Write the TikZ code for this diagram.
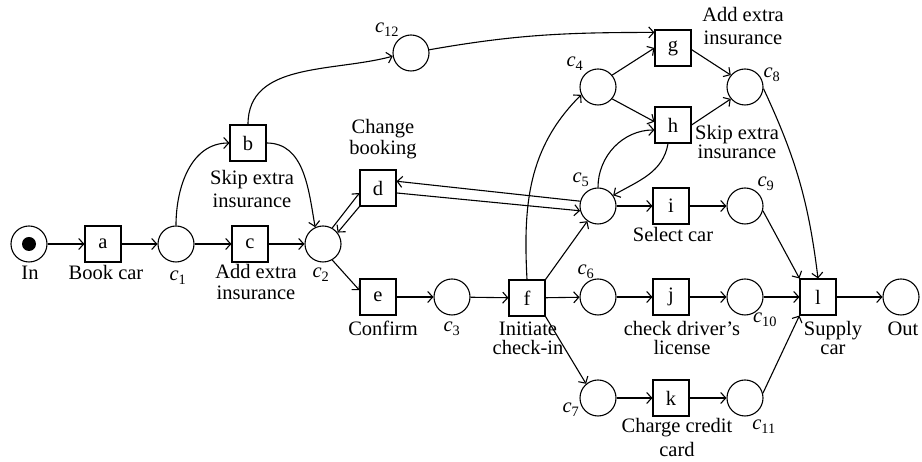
\documentclass[tikz,border=0pt]{standalone}
\usepackage{fontspec}
\setmainfont{Liberation Serif}
\usetikzlibrary{arrows.meta}
\newcommand{\pc}[1]{\textit{c}\textsubscript{#1}}

\begin{document}
\begin{tikzpicture}[x=1pt,y=1pt,line width=1.1pt,
    >={Straight Barb[length=5pt,width=11pt]},
    font=\fontsize{20.5}{21}\selectfont,
    place/.style={draw,circle,minimum size=36pt,inner sep=0pt},
    trans/.style={draw,rectangle,minimum size=36pt,inner sep=0pt},
    token/.style={circle,fill,minimum size=14pt,inner sep=0pt},
    lbl/.style={anchor=base,align=center,inner sep=0pt}]
    \useasboundingbox (0,0) rectangle (922,462);

    \node[place] (in) at (29,218) {};
    \node[token] (tok) at (in) {};
    \node[place] (c1) at (176,218) {};
    \node[place] (c2) at (323,218) {};
    \node[place] (c3) at (452,165) {};
    \node[place] (c4) at (598,375) {};
    \node[place] (c5) at (598,256) {};
    \node[place] (c6) at (598,165) {};
    \node[place] (c7) at (598,64) {};
    \node[place] (c8) at (745,375) {};
    \node[place] (c9) at (745,256) {};
    \node[place] (c10) at (745,165) {};
    \node[place] (c11) at (745,64) {};
    \node[place] (c12) at (411,409) {};
    \node[place] (out) at (901,165) {};

    \node[trans] (a) at (103,218) {a};
    \node[trans] (b) at (248,319) {b};
    \node[trans] (c) at (250,218) {c};
    \node[trans] (d) at (378,274) {d};
    \node[trans] (e) at (378,165) {e};
    \node[trans] (f) at (527,164) {f};
    \node[trans] (g) at (673,414) {g};
    \node[trans] (h) at (673,337) {h};
    \node[trans] (i) at (671,256) {i};
    \node[trans] (j) at (671,165) {j};
    \node[trans] (k) at (671,64) {k};
    \node[trans] (l) at (818,165) {l};

    \node[lbl] (lin) at (30,182) {In};
    \node[lbl] (la) at (106,182) {Book car};
    \node[lbl] (lc1) at (178,181) {\pc{1}};
    \node[lbl] (lc) at (256,162) {Add extra\\insurance};
    \node[lbl] (lb) at (252,254) {Skip extra\\[2pt]insurance};
    \node[lbl] (lc2) at (321,184) {\pc{2}};
    \node[lbl] (ld) at (383,307) {Change\\booking};
    \node[lbl] (lc12) at (387,429) {\pc{12}};
    \node[lbl] (lc4) at (575,395) {\pc{4}};
    \node[lbl] (lc5) at (581,279) {\pc{5}};
    \node[lbl] (lg) at (743,417) {Add extra\\[2pt]insurance};
    \node[lbl] (lc8) at (772,384) {\pc{8}};
    \node[lbl,font=\fontsize{20.5}{19.5}\selectfont] (lh) at (737,303) {Skip extra\\insurance};
    \node[lbl] (lc9) at (766,275) {\pc{9}};
    \node[lbl] (li) at (673,220) {Select car};
    \node[lbl] (lc6) at (586,187) {\pc{6}};
    \node[lbl] (le) at (383,126) {Confirm};
    \node[lbl] (lc3) at (452,130) {\pc{3}};
    \node[lbl,font=\fontsize{20.5}{19}\selectfont] (lf) at (528,107) {Initiate\\check-in};
    \node[lbl] (lc7) at (571,49) {\pc{7}};
    \node[lbl,font=\fontsize{20.5}{19}\selectfont] (lj) at (682,107) {check driver's\\license};
    \node[lbl] (lc10) at (765,139) {\pc{10}};
    \node[lbl,font=\fontsize{20.5}{19}\selectfont] (ll) at (833,107) {Supply\\car};
    \node[lbl] (lout) at (903,126) {Out};
    \node[lbl] (lk) at (677,5) {Charge credit\\[3pt]card};
    \node[lbl] (lc11) at (764,32) {\pc{11}};

    \draw[->] (in) -- (a);
    \draw[->] (a) -- (c1);
    \draw[->] (c1) -- (c);
    \draw[->] (c) -- (c2);
    \draw[->] (c1.north) to[out=90,in=180] (b.west);
    \draw[->] (b.east) to[out=0,in=100] (c2.115);
    \draw[->] (b.north) to[out=90,in=195] (c12.190);
    \draw[->] (c12.10) to[out=10,in=180] (g.140);
    \draw[->] (c2.60) -- (d.195);
    \draw[->] (d.south west) -- (c2.38);
    \draw[->] (d.-15) -- (c5.195);
    \draw[->] (c5.165) -- (d.20);
    \draw[->] (c2.-60) -- (e.160);
    \draw[->] (e) -- (c3);
    \draw[->] (c3) -- (f);
    \draw[->] (f.north) to[out=93,in=225] (c4.205);
    \draw[->] (f.north east) -- (c5.235);
    \draw[->] (f) -- (c6);
    \draw[->] (f.south east) -- (c7.130);
    \draw[->] (c4.40) -- (g.west);
    \draw[->] (c4.-40) -- (h.170);
    \draw[->] (c5.north) to[out=90,in=180] (h.195);
    \draw[->] (h.-105) to[out=-100,in=30] (c5.35);
    \draw[->] (c5) -- (i);
    \draw[->] (i) -- (c9);
    \draw[->] (g.-5) -- (c8.140);
    \draw[->] (h.east) -- (c8.220);
    \draw[->] (c8.-5) to[out=-65,in=97] (l.north);
    \draw[->] (c9.-15) -- (l.north west);
    \draw[->] (c6) -- (j);
    \draw[->] (j) -- (c10);
    \draw[->] (c10) -- (l);
    \draw[->] (c7) -- (k);
    \draw[->] (k) -- (c11);
    \draw[->] (c11.15) -- (l.south west);
    \draw[->] (l) -- (out);
\end{tikzpicture}
\end{document}
